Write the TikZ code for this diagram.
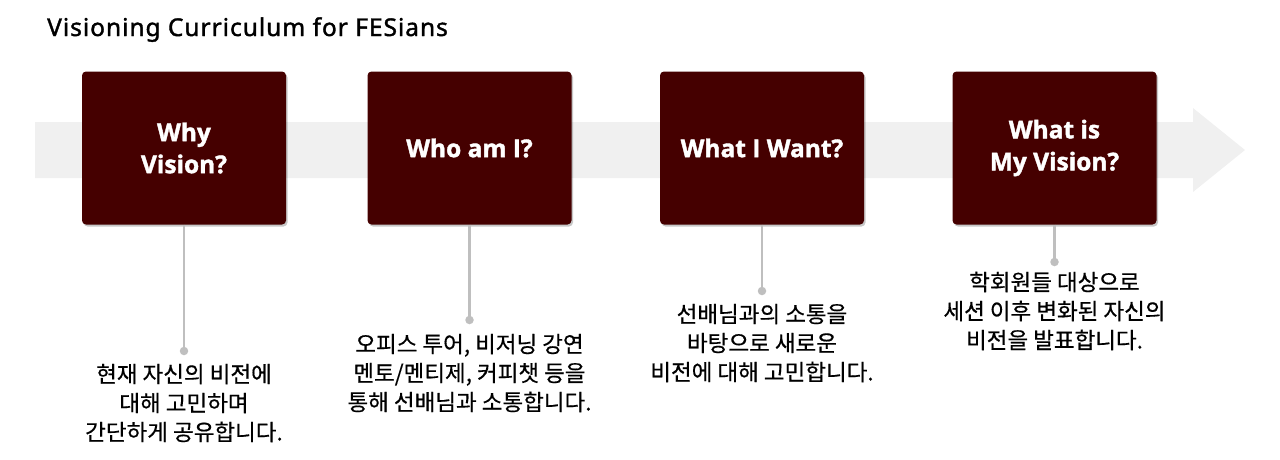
\documentclass[tikz,border=0pt]{standalone}
\usepackage{fontspec}
\setmainfont{Open Sans}
\newfontfamily\krfont[FakeBold=0.5]{Noto Sans CJK KR}
\newfontfamily\titlefont[FakeBold=1.5, LetterSpace=4]{Noto Sans}
\newfontfamily\boxfont[BoldFeatures={FakeBold=1.6}]{Open Sans}
\usetikzlibrary{shadows}
\definecolor{boxred}{RGB}{69,0,0}
\definecolor{bandgray}{RGB}{240,240,240}
\definecolor{linegray}{RGB}{191,191,191}
\tikzset{
  stagebox/.style={rectangle, rounded corners=4pt, fill=boxred, draw=none,
    minimum width=204pt, minimum height=153pt, inner sep=0pt,
    text=white, align=center, font=\boxfont\fontsize{24.5}{32}\selectfont\bfseries,
    drop shadow={shadow xshift=1.5pt, shadow yshift=-2pt, fill=black, opacity=0.22}},
  desc/.style={align=center, inner sep=0pt, text=black,
    font=\krfont\fontsize{22.5}{29}\selectfont},
  conn/.style={draw=linegray, line width=2.6pt},
  enddot/.style={circle, fill=linegray, minimum size=8.5pt, inner sep=0pt},
}
\begin{document}
\begin{tikzpicture}[x=1pt, y=-1pt]
\useasboundingbox (0,0) rectangle (1280,459);
% background arrow
\fill[bandgray] (35,122) -- (1193,122) -- (1193,108) -- (1245,150) -- (1193,192) -- (1193,178) -- (35,178) -- cycle;
% title
\node[anchor=base west, inner sep=0pt, font=\titlefont\fontsize{24.5}{28}\selectfont] (title) at (47,36) {Visioning Curriculum for FESians};
% boxes
\node[stagebox] (b1) at (184,148) {Why\\Vision?};
\node[stagebox] (b2) at (469.5,148) {Who am I?};
\node[stagebox] (b3) at (762,148) {What I Want?};
\node[stagebox] (b4) at (1054.5,148) {What is\\My Vision?};
% dots
\node[enddot] (d1) at (184,351) {};
\node[enddot] (d2) at (469.5,320) {};
\node[enddot] (d3) at (762,291) {};
\node[enddot] (d4) at (1054.5,262) {};
% connectors
\draw[conn] (b1.south) -- (d1.center);
\draw[conn] (b2.south) -- (d2.center);
\draw[conn] (b3.south) -- (d3.center);
\draw[conn] (b4.south) -- (d4.center);
% descriptions
\node[desc] (t1) at (184,403) {현재 자신의 비전에\\대해 고민하며\\간단하게 공유합니다.};
\node[desc] (t2) at (469.5,373) {오피스 투어, 비저닝 강연\\멘토/멘티제, 커피챗 등을\\통해 선배님과 소통합니다.};
\node[desc] (t3) at (762,343) {선배님과의 소통을\\바탕으로 새로운\\비전에 대해 고민합니다.};
\node[desc] (t4) at (1054.5,311) {학회원들 대상으로\\세션 이후 변화된 자신의\\비전을 발표합니다.};
\end{tikzpicture}
\end{document}
